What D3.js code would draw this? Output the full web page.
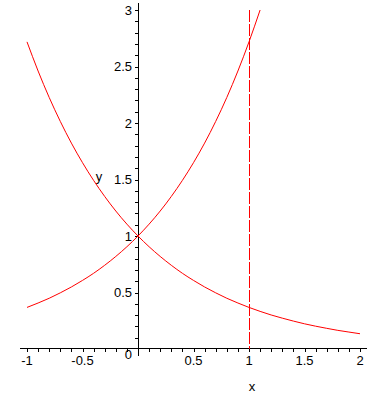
<!DOCTYPE html>
<html>
<head>
<meta charset="utf-8">
<script src="https://cdn.jsdelivr.net/npm/d3@7"></script>
<style>
  body { margin: 0; background: #fff; }
  text { font-family: "Liberation Sans", Arial, sans-serif; font-size: 13px; fill: #000; }
</style>
</head>
<body>
<svg></svg>
<script>
const w = 388;
const h = 394;

// sample points
const xs = [-1, -0.9, -0.8, -0.7, -0.6, -0.5, -0.4, -0.3, -0.2, -0.1, 0,
  0.1, 0.2, 0.3, 0.4, 0.5, 0.6, 0.7, 0.8, 0.9, 1, 1.1,
  1.2, 1.3, 1.4, 1.5, 1.6, 1.7, 1.8, 1.9, 2];
const growth = [0.368, 0.407, 0.449, 0.497, 0.549, 0.607, 0.670, 0.741, 0.819, 0.905, 1,
  1.105, 1.221, 1.350, 1.492, 1.649, 1.822, 2.014, 2.226, 2.460, 2.718, 3.0];
const decay = [2.718, 2.460, 2.226, 2.014, 1.822, 1.649, 1.492, 1.350, 1.221, 1.105, 1,
  0.905, 0.819, 0.741, 0.670, 0.607, 0.549, 0.497, 0.449, 0.407, 0.368, 0.333,
  0.301, 0.273, 0.247, 0.223, 0.202, 0.183, 0.165, 0.150, 0.135];
const markX = 1;

const xLabels = [-1, -0.5, 0.5, 1, 1.5, 2];
const yLabels = [0, 0.5, 1, 1.5, 2, 2.5, 3];
const minorTicks = [-1, -0.9, -0.8, -0.7, -0.6, -0.5, -0.4, -0.3, -0.2, -0.1, 0,
  0.1, 0.2, 0.3, 0.4, 0.5, 0.6, 0.7, 0.8, 0.9, 1, 1.1, 1.2, 1.3, 1.4, 1.5,
  1.6, 1.7, 1.8, 1.9, 2];
const yMinor = [0.1, 0.2, 0.3, 0.4, 0.5, 0.6, 0.7, 0.8, 0.9, 1, 1.1, 1.2, 1.3,
  1.4, 1.5, 1.6, 1.7, 1.8, 1.9, 2, 2.1, 2.2, 2.3, 2.4, 2.5, 2.6, 2.7, 2.8, 2.9, 3];

const svg = d3.select('svg').attr('width', w).attr('height', h);

const x = d3.scaleLinear().domain([-1, 2]).range([27, 360]);
const y = d3.scaleLinear().domain([0, 3]).range([349, 10]);

const x0 = Math.round(x(0)) + 0.5;
const y0 = Math.round(y(0)) - 0.5;

// x axis
svg.append('line')
  .attr('x1', 20).attr('x2', 367)
  .attr('y1', y0).attr('y2', y0)
  .attr('stroke', 'black')
  .attr('shape-rendering', 'crispEdges');

svg.append('g')
  .attr('transform', `translate(0,${y0})`)
  .call(d3.axisBottom(x).tickValues(minorTicks).tickSize(3).tickFormat(''))
  .call(g => g.select('.domain').remove())
  .call(g => g.selectAll('line').attr('shape-rendering', 'crispEdges'));

// y axis
svg.append('line')
  .attr('x1', x0).attr('x2', x0)
  .attr('y1', 3).attr('y2', 356)
  .attr('stroke', 'black')
  .attr('shape-rendering', 'crispEdges');

svg.append('g')
  .attr('transform', `translate(${x0},0)`)
  .call(d3.axisLeft(y).tickValues(yMinor).tickSize(4).tickFormat(''))
  .call(g => g.select('.domain').remove())
  .call(g => g.selectAll('line').attr('shape-rendering', 'crispEdges'));

svg.selectAll('.xlab')
  .data(xLabels)
  .enter()
  .append('text')
  .attr('class', 'xlab')
  .attr('x', d => x(d))
  .attr('y', 365)
  .attr('text-anchor', 'middle')
  .text(d => d);

svg.selectAll('.ylab')
  .data(yLabels)
  .enter()
  .append('text')
  .attr('class', 'ylab')
  .attr('x', 132)
  .attr('y', d => (d === 0 ? y(d) + 5 : y(d)))
  .attr('dy', '0.35em')
  .attr('text-anchor', 'end')
  .text(d => d);

svg.append('text').attr('x', 252).attr('y', 391).attr('text-anchor', 'middle').text('x');
svg.append('text').attr('x', 99).attr('y', 181).attr('text-anchor', 'middle').text('y');

// curves
const line = d3.line().curve(d3.curveMonotoneX);

svg.append('path')
  .attr('d', line(growth.map((v, i) => [x(xs[i]), y(v)])))
  .attr('fill', 'none')
  .attr('stroke', 'red')
  .attr('stroke-width', 1);

svg.append('path')
  .attr('d', line(decay.map((v, i) => [x(xs[i]), y(v)])))
  .attr('fill', 'none')
  .attr('stroke', 'red')
  .attr('stroke-width', 1);

// dashed marker at x = 1
svg.append('line')
  .attr('x1', Math.round(x(markX)) + 0.5).attr('x2', Math.round(x(markX)) + 0.5)
  .attr('y1', y(3)).attr('y2', y(0))
  .attr('stroke', 'red')
  .attr('stroke-dasharray', '12,2')
  .attr('shape-rendering', 'crispEdges');
</script>
</body>
</html>
